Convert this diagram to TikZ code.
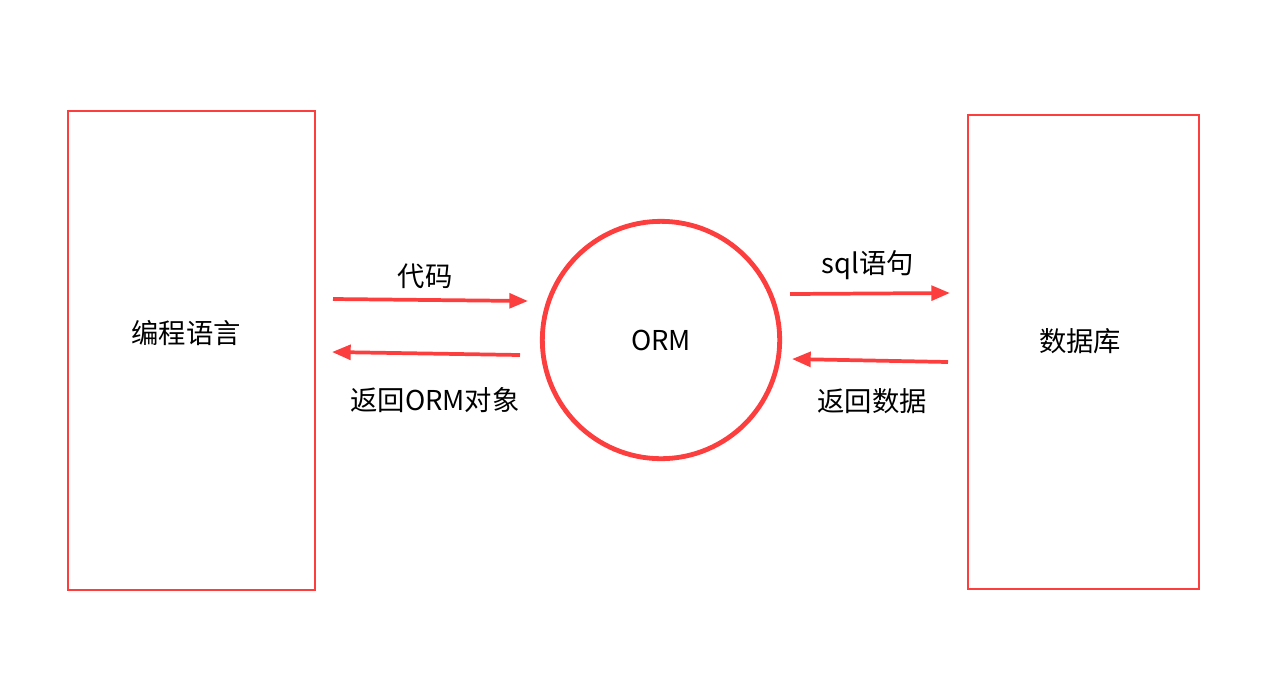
\documentclass[tikz,border=0pt]{standalone}
\usepackage{fontspec}
\setmainfont{Noto Sans CJK SC}
\usetikzlibrary{arrows.meta}
\definecolor{ormred}{RGB}{252,62,62}
\begin{document}
\begin{tikzpicture}[x=0.75pt, y=-0.75pt, box/.style={draw=ormred, line width=1.6pt, minimum width=185pt, minimum height=359pt}, hub/.style={circle, draw=ormred, line width=3.6pt, minimum size=178pt}, flow/.style={ormred, line width=2.8pt, -{Triangle[length=14pt, width=11pt]}}, lbl/.style={font=\fontsize{20.5}{24}\selectfont}]

		\useasboundingbox (0, 0) rectangle (1288, 694);

		\node[box] (lang) at (191.5, 350.5) {};
		\node[lbl] at (186, 333) {编程语言};
		\node[box, minimum width=173pt, minimum height=355pt] (db) at (1083.5, 352) {};
		\node[lbl] at (1080, 341) {数据库};

		\node[hub] (orm) at (661, 340) {};
		\node[lbl] at (orm.center) {ORM};

		\coordinate (a1) at (333, 299);
		\coordinate (a2) at (528, 301);
		\coordinate (b1) at (520, 355);
		\coordinate (b2) at (332, 352);
		\coordinate (c1) at (790, 294);
		\coordinate (c2) at (950, 293);
		\coordinate (d1) at (948, 362);
		\coordinate (d2) at (792, 359);

		\draw[flow] (a1) -- (a2);
		\draw[flow] (b1) -- (b2);
		\draw[flow] (c1) -- (c2);
		\draw[flow] (d1) -- (d2);

		\node[lbl] (code) at (425, 276) {代码};
		\node[lbl] (back) at (435, 400) {返回ORM对象};
		\node[lbl] (sql) at (868, 265) {sql语句};
		\node[lbl] (data) at (872, 401) {返回数据};

	\end{tikzpicture}
\end{document}
